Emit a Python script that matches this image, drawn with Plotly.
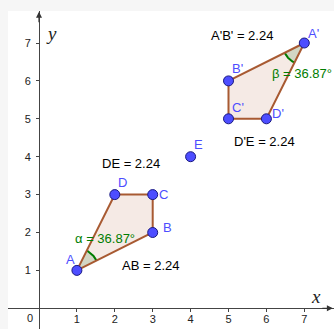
import numpy as np
import plotly.graph_objects as go

# ---- data ----
point_names = ["A", "B", "C", "D", "E", "A'", "B'", "C'", "D'"]
point_x = [1, 3, 3, 2, 4, 7, 5, 5, 6]
point_y = [1, 2, 3, 3, 4, 7, 6, 5, 5]

poly1 = ["A", "B", "C", "D"]
poly2 = ["A'", "B'", "C'", "D'"]

seg_labels = ["AB", "DE", "A'B'", "D'E"]
seg_lengths = [2.24, 2.24, 2.24, 2.24]

angle_names = ["α", "β"]
angle_vertex = ["A", "A'"]
angle_from = ["B", "B'"]
angle_to = ["D", "D'"]
angle_values = [36.87, 36.87]

x_ticks = [1, 2, 3, 4, 5, 6, 7]
y_ticks = [1, 2, 3, 4, 5, 6, 7]

# ---- view ----
UNIT = 37.9
PL, PT, PW, PH = 8, 11, 326, 318
XMIN = -31.0 / UNIT
XMAX = XMIN + PW / UNIT
YMIN = -20.7 / UNIT
YMAX = YMIN + PH / UNIT

P = dict(zip(point_names, zip(point_x, point_y)))

POLY_EDGE = "#a85a32"
POLY_FILL = "rgba(153,51,0,0.10)"
GREEN = "#007d00"
BLUE = "#4d4dff"

fig = go.Figure()

# polygon fills
for poly in (poly1, poly2):
    xs = [P[n][0] for n in poly] + [P[poly[0]][0]]
    ys = [P[n][1] for n in poly] + [P[poly[0]][1]]
    fig.add_trace(go.Scatter(x=xs, y=ys, mode="lines", fill="toself",
                             fillcolor=POLY_FILL, line=dict(width=0),
                             hoverinfo="skip", showlegend=False))

# angle sectors
R = 0.58
for v, a, b in zip(angle_vertex, angle_from, angle_to):
    vx, vy = P[v]
    t0 = np.arctan2(P[a][1] - vy, P[a][0] - vx)
    t1 = np.arctan2(P[b][1] - vy, P[b][0] - vx)
    t = np.linspace(t0, t1, 30)
    ax_ = vx + R * np.cos(t)
    ay_ = vy + R * np.sin(t)
    fig.add_trace(go.Scatter(x=[vx] + list(ax_) + [vx], y=[vy] + list(ay_) + [vy],
                             mode="lines", fill="toself",
                             fillcolor="rgba(0,90,0,0.14)", line=dict(width=0),
                             hoverinfo="skip", showlegend=False))
    fig.add_trace(go.Scatter(x=ax_, y=ay_, mode="lines",
                             line=dict(color=GREEN, width=2),
                             hoverinfo="skip", showlegend=False))

# polygon edges
for poly in (poly1, poly2):
    xs = [P[n][0] for n in poly] + [P[poly[0]][0]]
    ys = [P[n][1] for n in poly] + [P[poly[0]][1]]
    fig.add_trace(go.Scatter(x=xs, y=ys, mode="lines",
                             line=dict(color=POLY_EDGE, width=2),
                             hoverinfo="skip", showlegend=False))

# points
fig.add_trace(go.Scatter(x=point_x, y=point_y, mode="markers",
                         marker=dict(size=10, color=BLUE,
                                     line=dict(color="#1a1a80", width=1)),
                         hoverinfo="skip", showlegend=False))

annotations = []
# point labels (pixel offsets)
offsets = {"A": (-6, 11), "B": (15, 5), "C": (11, 0), "D": (8, 12), "E": (8, 12),
           "A'": (9, 10), "B'": (9, 12), "C'": (9, 11), "D'": (12, 5)}
for n in point_names:
    dx, dy = offsets[n]
    annotations.append(dict(x=P[n][0], y=P[n][1], text=n, showarrow=False,
                            xshift=dx, yshift=dy,
                            font=dict(family="Liberation Sans, Arial", size=13, color=BLUE)))

# segment length labels
seg_pos = {"AB": (2.93, 1.14), "DE": (2.43, 3.83), "A'B'": (5.36, 7.21), "D'E": (5.94, 4.41)}
for name, val in zip(seg_labels, seg_lengths):
    x, y = seg_pos[name]
    annotations.append(dict(x=x, y=y, text=f"{name} = {val:.2f}", showarrow=False,
                            font=dict(family="Liberation Sans, Arial", size=13, color="black")))

# angle labels
ang_pos = {"α": (1.73, 1.85), "β": (6.93, 6.2)}
for name, val in zip(angle_names, angle_values):
    x, y = ang_pos[name]
    annotations.append(dict(x=x, y=y, text=f"{name} = {val:.2f}°", showarrow=False,
                            font=dict(family="Liberation Sans, Arial", size=13, color=GREEN)))

# axis names and origin
annotations.append(dict(x=0, y=YMAX, text="<i>y</i>", showarrow=False, xshift=12, yshift=-22,
                        font=dict(family="Liberation Serif, DejaVu Serif", size=19, color="#222")))
annotations.append(dict(x=XMAX, y=0, text="<i>x</i>", showarrow=False, xshift=-18, yshift=12,
                        font=dict(family="Liberation Serif, DejaVu Serif", size=19, color="#222")))
annotations.append(dict(x=0, y=0, text="0", showarrow=False, xshift=-9, yshift=-10,
                        font=dict(family="Liberation Sans, Arial", size=11, color="#222")))
# arrow heads
annotations.append(dict(x=0, y=YMAX - 0.02, ax=0, ay=12, text="", showarrow=True,
                        arrowhead=2, arrowsize=1, arrowwidth=1.2, arrowcolor="#333",
                        axref="pixel", ayref="pixel"))
annotations.append(dict(x=XMAX - 0.03, y=0, ax=-12, ay=0, text="", showarrow=True,
                        arrowhead=2, arrowsize=1, arrowwidth=1.2, arrowcolor="#333",
                        axref="pixel", ayref="pixel"))

axis_common = dict(showgrid=False, zeroline=False, showline=True, linecolor="#444",
                   linewidth=1, ticks="outside", ticklen=3, tickcolor="#444",
                   tickfont=dict(family="Liberation Sans, Arial", size=11, color="#222"),
                   anchor="free", fixedrange=True)

fig.update_layout(
    width=334, height=329,
    margin=dict(l=PL, r=334 - PL - PW, t=PT, b=329 - PT - PH, pad=0, autoexpand=False),
    paper_bgcolor="#f6f6f6", plot_bgcolor="white",
    xaxis=dict(range=[XMIN, XMAX], tickvals=x_ticks, ticklabelstandoff=-3,
               position=(0 - YMIN) / (YMAX - YMIN), **axis_common),
    yaxis=dict(range=[YMIN, YMAX], tickvals=y_ticks, ticklabelstandoff=3,
               position=(0 - XMIN) / (XMAX - XMIN), **axis_common),
    annotations=annotations,
    showlegend=False,
)

fig.write_html("out.html", config={"displayModeBar": False},
               post_script="document.body.style.margin='0';document.body.style.overflow='hidden';")
